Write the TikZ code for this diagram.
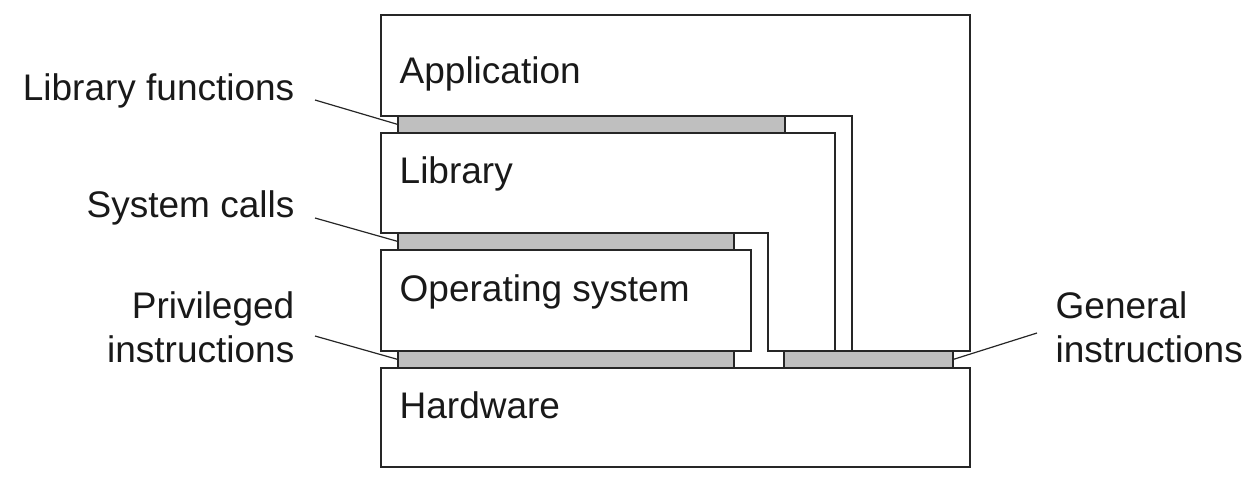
\documentclass[tikz,border=0pt]{standalone}
\usepackage{fontspec}
\setmainfont{Liberation Sans}
\begin{document}
\begin{tikzpicture}[x=1pt,y=-1pt, line width=1.4pt,
  lay/.style={draw=black!85, line join=miter},
  bar/.style={draw=black!85, fill=black!25, inner sep=0pt, outer sep=0pt, anchor=north west},
  lbl/.style={font=\fontsize{37}{44}\selectfont, inner sep=0pt, text=black!90},
  lead/.style={draw=black!85, line width=1.2pt}]
\useasboundingbox (0,0) rectangle (1254,490);
% layers
\draw[lay] (381,15) -- (970,15) -- (970,351) -- (852,351) -- (852,116) -- (381,116) -- cycle;
\draw[lay] (784,368) -- (784,351) -- (768,351) -- (768,233) -- (381,233) -- (381,133) -- (835,133) -- (835,351);
\draw[lay] (381,250) rectangle (751,351);
\draw[lay] (381,368) rectangle (970,467);
% interfaces
\node[bar, minimum width=387pt, minimum height=17pt] (lf) at (398,116) {};
\node[bar, minimum width=336pt, minimum height=17pt] (sc) at (398,233) {};
\node[bar, minimum width=336pt, minimum height=17pt] (pi) at (398,351) {};
\node[bar, minimum width=169pt, minimum height=17pt] (gi) at (784,351) {};
% layer labels
\node[lbl, anchor=base west] (app) at (399,83) {Application};
\node[lbl, anchor=base west] (lib) at (399,183) {Library};
\node[lbl, anchor=base west] (os) at (399,301) {Operating system};
\node[lbl, anchor=base west] (hw) at (399,418) {Hardware};
% interface labels
\node[lbl, anchor=base east] (tlf) at (295,100) {Library functions};
\node[lbl, anchor=base east] (tsc) at (295,217) {System calls};
\node[lbl, anchor=base east, align=right] (tpi) at (295,362) {Privileged\\instructions};
\node[lbl, anchor=base west, align=left] (tgi) at (1055,362) {General\\instructions};
% leaders
\coordinate (clf) at (315,100);
\coordinate (csc) at (315,218);
\coordinate (cpi) at (315,336);
\coordinate (cgi) at (1037,333);
\draw[lead] (clf) -- (lf.west);
\draw[lead] (csc) -- (sc.west);
\draw[lead] (cpi) -- (pi.west);
\draw[lead] (cgi) -- (gi.east);
\end{tikzpicture}
\end{document}
